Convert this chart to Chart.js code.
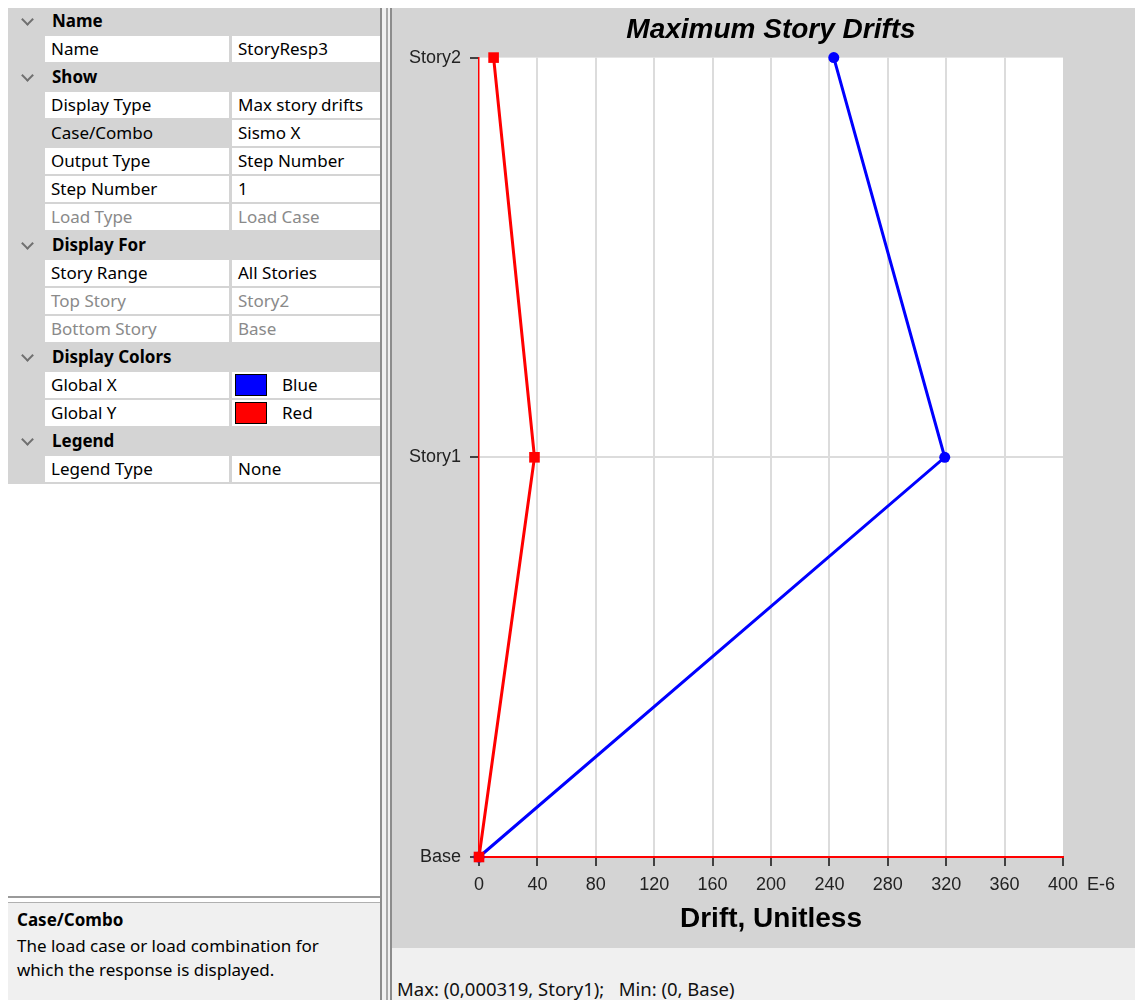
<!DOCTYPE html>
<html>
<head>
<meta charset="utf-8">
<title>Maximum Story Drifts</title>
<script src="https://cdn.jsdelivr.net/npm/chart.js@4.4.1/dist/chart.umd.min.js"></script>
<style>
  html, body { margin: 0; padding: 0; background: #fff; }
  body { width: 1135px; height: 1000px; position: relative; overflow: hidden;
         font-family: "Noto Sans", "Liberation Sans", Arial, sans-serif; font-size: 17px; color: #000; }
  #grid { position: absolute; left: 8px; top: 8px; width: 372px; }
  .row { position: relative; height: 28px; line-height: 26px; }
  .hdr { background: #d4d4d4; font-weight: bold; }
  .hdr .txt { position: absolute; left: 44px; top: 0; }
  .chev { position: absolute; left: 15px; top: 7px; width: 7px; height: 7px;
          border-right: 2px solid #707070; border-bottom: 2px solid #707070; transform: rotate(45deg); }
  .item { background: #d4d4d4; }
  .item .k { position: absolute; left: 37px; top: 0; width: 184px; height: 26px; background: #fff; padding-left: 6px; box-sizing: border-box; }
  .item .v { position: absolute; left: 224px; top: 0; width: 148px; height: 26px; background: #fff; padding-left: 6px; box-sizing: border-box; }
  .item .k.sel { background: #d4d4d4; }
  .dis { color: #8a8a8a; }
  .sw { position: absolute; left: 3px; top: 2px; width: 32px; height: 22px; border: 1px solid #000; box-sizing: border-box; }
  #gridfill { position: absolute; left: 8px; top: 484px; width: 372px; height: 412px; background: #fff; }
  #split1 { position: absolute; left: 8px; top: 896px; width: 372px; height: 2px; background: #9a9a9a; }
  #split2 { position: absolute; left: 8px; top: 902px; width: 372px; height: 1px; background: #b0b0b0; }
  #help { position: absolute; left: 8px; top: 903px; width: 372px; height: 97px; background: #f0f0f0; }
  #help .t { position: absolute; left: 9px; top: 5px; font-weight: bold; }
  #help .d { position: absolute; left: 9px; top: 31px; line-height: 24px; }
  #vbar1 { position: absolute; left: 380px; top: 8px; width: 2px; height: 992px; background: #8c8c8c; }
  #vgap { position: absolute; left: 382px; top: 8px; width: 4px; height: 992px; background: #f0f0f0; }
  #vbar2 { position: absolute; left: 386px; top: 8px; width: 2px; height: 992px; background: #a8a8a8; }
  #vgap2 { position: absolute; left: 388px; top: 8px; width: 2px; height: 992px; background: #f0f0f0; }
  #plotwrap { position: absolute; left: 390px; top: 8px; width: 745px; height: 992px; background: #f0f0f0;
              border-left: 2px solid #8c8c8c; box-sizing: border-box; }
  #chartbox { position: absolute; left: 392px; top: 8px; width: 743px; height: 940px; background: #d4d4d4; }
  #status { position: absolute; left: 397px; top: 977px; font-family: "Noto Sans", "Liberation Sans", Arial, sans-serif; font-size: 18.5px; line-height: 24px; color: #111; white-space: pre; }
</style>
</head>
<body>

<div id="grid">
  <div class="row hdr"><span class="chev"></span><span class="txt">Name</span></div>
  <div class="row item"><span class="k">Name</span><span class="v">StoryResp3</span></div>
  <div class="row hdr"><span class="chev"></span><span class="txt">Show</span></div>
  <div class="row item"><span class="k">Display Type</span><span class="v">Max story drifts</span></div>
  <div class="row item"><span class="k sel">Case/Combo</span><span class="v">Sismo X</span></div>
  <div class="row item"><span class="k">Output Type</span><span class="v">Step Number</span></div>
  <div class="row item"><span class="k">Step Number</span><span class="v">1</span></div>
  <div class="row item"><span class="k dis">Load Type</span><span class="v dis">Load Case</span></div>
  <div class="row hdr"><span class="chev"></span><span class="txt">Display For</span></div>
  <div class="row item"><span class="k">Story Range</span><span class="v">All Stories</span></div>
  <div class="row item"><span class="k dis">Top Story</span><span class="v dis">Story2</span></div>
  <div class="row item"><span class="k dis">Bottom Story</span><span class="v dis">Base</span></div>
  <div class="row hdr"><span class="chev"></span><span class="txt">Display Colors</span></div>
  <div class="row item"><span class="k">Global X</span><span class="v"><span class="sw" style="background:#0000ff"></span><span style="position:absolute;left:50px">Blue</span></span></div>
  <div class="row item"><span class="k">Global Y</span><span class="v"><span class="sw" style="background:#ff0000"></span><span style="position:absolute;left:50px">Red</span></span></div>
  <div class="row hdr"><span class="chev"></span><span class="txt">Legend</span></div>
  <div class="row item"><span class="k">Legend Type</span><span class="v">None</span></div>
</div>
<div id="gridfill"></div>
<div id="split1"></div>
<div id="split2"></div>
<div id="help">
  <div class="t">Case/Combo</div>
  <div class="d">The load case or load combination for<br>which the response is displayed.</div>
</div>
<div id="vbar1"></div><div id="vgap"></div><div id="vbar2"></div><div id="vgap2"></div>
<div id="plotwrap"></div>
<div id="chartbox"><canvas id="chart" width="743" height="940"></canvas></div>
<div id="status">Max: (0,000319, Story1);   Min: (0, Base)</div>

<script>
// stories from bottom to top
var stories = ['Base', 'Story1', 'Story2'];
// max story drifts, in E-6
var driftGlobalX = [0, 319, 243];
var driftGlobalY = [0, 38, 10];
// drift axis
var driftMin = 0;
var driftMax = 400;
var driftStep = 40;

Chart.defaults.font.family = '"Liberation Sans", Arial, sans-serif';

function toPoints(values) {
  return values.map(function(v, i) { return { x: v, y: i }; });
}

// white plot area on the grey panel
var plotBackground = {
  id: 'plotBackground',
  beforeDraw: function(chart) {
    var a = chart.chartArea;
    var ctx = chart.ctx;
    ctx.save();
    ctx.fillStyle = '#ffffff';
    ctx.fillRect(a.left, a.top, a.right - a.left, a.bottom - a.top);
    ctx.restore();
  }
};

// the "E-6" after the last drift tick
var unitSuffix = {
  id: 'unitSuffix',
  afterDraw: function(chart) {
    var x = chart.scales.x;
    var ctx = chart.ctx;
    ctx.save();
    ctx.font = '18px "Liberation Sans", Arial, sans-serif';
    ctx.fillStyle = '#222';
    ctx.textBaseline = 'middle';
    ctx.textAlign = 'left';
    ctx.fillText('E-6', x.right + 24, x.top + 28);
    ctx.restore();
  }
};

var ctx = document.getElementById('chart').getContext('2d');
new Chart(ctx, {
  type: 'scatter',
  data: {
    datasets: [{
      label: 'Global X',
      data: toPoints(driftGlobalX),
      showLine: true,
      borderColor: '#0000ff',
      backgroundColor: '#0000ff',
      borderWidth: 3,
      pointStyle: 'circle',
      pointRadius: 5.5,
      pointBorderWidth: 0,
      clip: false,
      order: 2
    }, {
      label: 'Global Y',
      data: toPoints(driftGlobalY),
      showLine: true,
      borderColor: '#ff0000',
      backgroundColor: '#ff0000',
      borderWidth: 3,
      pointStyle: 'rect',
      pointRadius: 7.5,
      pointBorderWidth: 0,
      clip: false,
      order: 1
    }]
  },
  options: {
    responsive: false,
    animation: false,
    events: [],
    layout: { padding: { left: 0, right: 72, top: 0, bottom: 0 } },
    plugins: {
      legend: { display: false },
      tooltip: { enabled: false },
      title: {
        display: true,
        text: 'Maximum Story Drifts',
        fullSize: false,
        color: '#000',
        font: { size: 28, weight: 'bold', style: 'italic' },
        padding: { top: 5, bottom: 11 }
      }
    },
    scales: {
      x: {
        type: 'linear',
        min: driftMin,
        max: driftMax,
        ticks: { stepSize: driftStep, color: '#222', font: { size: 18 }, padding: 8, maxRotation: 0 },
        grid: {
          color: function(c) {
            return (c.tick && (c.tick.value === driftMin || c.tick.value === driftMax)) ? 'rgba(0,0,0,0)' : '#dcdcdc';
          },
          lineWidth: 2,
          tickColor: '#111',
          tickWidth: 1.5,
          tickLength: 9
        },
        border: { color: '#ff0000', width: 2 },
        title: {
          display: true,
          text: 'Drift, Unitless',
          color: '#000',
          font: { size: 28, weight: 'bold' },
          padding: { top: 0, bottom: 12 }
        },
        afterFit: function(s) { s.height = 91; }
      },
      y: {
        type: 'linear',
        min: 0,
        max: stories.length - 1,
        ticks: {
          stepSize: 1,
          color: '#222',
          font: { size: 18 },
          padding: 9,
          callback: function(v) { return stories[v]; }
        },
        grid: {
          color: function(c) {
            return (c.tick && c.tick.value > 0 && c.tick.value < stories.length - 1) ? '#dcdcdc' : 'rgba(0,0,0,0)';
          },
          lineWidth: 2,
          tickColor: '#111',
          tickWidth: 1.5,
          tickLength: 9
        },
        border: { color: '#ff0000', width: 1.5 },
        afterFit: function(s) { s.width = 87; }
      }
    }
  },
  plugins: [plotBackground, unitSuffix]
});
</script>
</body>
</html>
